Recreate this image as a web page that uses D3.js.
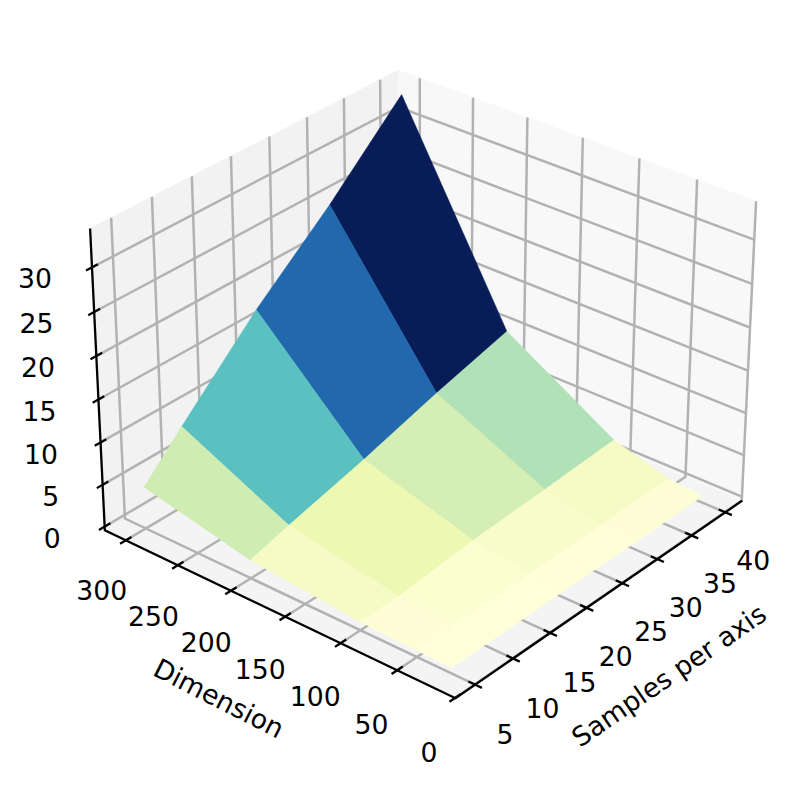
<!DOCTYPE html>
<html><head><meta charset="utf-8">
<script src="https://cdn.jsdelivr.net/npm/d3@7"></script>
<style>html,body{margin:0;padding:0;background:#fff}svg{display:block}text{font-family:"DejaVu Sans";font-size:26.67px;fill:#000}</style>
</head><body><div id="chart"></div>
<script>
const samples = [5, 10, 20, 30, 40];
const dimensions = [300, 200, 100, 50, 20];
const timeRow300 = [4.5, 9, 17.65, 25.15, 33.5];
const timeRow200 = [1.7, 3, 5.35, 8, 10.35];
const timeRow100 = [0.55, 0.6, 1.5, 2, 2.6];
const timeRow50 = [0.3, 0.4, 0.5, 0.6, 0.7];
const timeRow20 = [0.2, 0.2, 0.25, 0.25, 0.3];
const values = [timeRow300, timeRow200, timeRow100, timeRow50, timeRow20];
const sampleTicks = [5, 10, 15, 20, 25, 30, 35, 40];
const dimensionTicks = [0, 50, 100, 150, 200, 250, 300];
const zTicks = [0, 5, 10, 15, 20, 25, 30];
const cmapColors = ["#ffffd9","#edf8b1","#c7e9b4","#7fcdbb","#41b6c4","#1d91c0","#225ea8","#253494","#081d58"];

const W = 794, H = 786;
const svg = d3.select("#chart").append("svg").attr("width", W).attr("height", H);

const sx = d3.scaleLinear().domain([2.45, 42.55]).range([0, 1]);
const sy = d3.scaleLinear().domain([-0.4, 320.4]).range([0, 1]);
const sz = d3.scaleLinear().domain([-0.45, 34.3]).range([0, 1]);

const elev = 30 * Math.PI / 180, azim = 220 * Math.PI / 180, dist = 10;
const bf = 1.8294640721620434 * 25 / 24 / Math.hypot(4, 4, 3);
const box = [4 * bf, 4 * bf, 3 * bf];
const wv = [Math.cos(elev) * Math.cos(azim), Math.cos(elev) * Math.sin(azim), Math.sin(elev)];
const un = Math.hypot(wv[0], wv[1]);
const uv = [-wv[1] / un, wv[0] / un, 0];
const vv = [wv[1]*uv[2]-wv[2]*uv[1], wv[2]*uv[0]-wv[0]*uv[2], wv[0]*uv[1]-wv[1]*uv[0]];
const dot = (a, b) => a[0]*b[0] + a[1]*b[1] + a[2]*b[2];
const px = d3.scaleLinear().domain([-0.1, 0.1]).range([425.5 - 388.5, 425.5 + 388.5]);
const py = d3.scaleLinear().domain([-0.1, 0.1]).range([368.5 + 388.5, 368.5 - 388.5]);
function projFrac(fx, fy, fz) {
  const p = [(fx - .5) * box[0], (fy - .5) * box[1], (fz - .5) * box[2]];
  const d = dist - dot(wv, p);
  return [px(dot(uv, p) / d), py(dot(vv, p) / d)];
}
const proj = (x, y, z) => projFrac(sx(x), sy(y), sz(z));
const line = d3.line();
const closed = pts => line(pts) + "Z";

const panes = [
  {c:[[0,0,0],[1,0,0],[1,1,0],[0,1,0]], fill:"#f4f4f4"},
  {c:[[0,1,0],[1,1,0],[1,1,1],[0,1,1]], fill:"#f2f2f2"},
  {c:[[1,0,0],[1,1,0],[1,1,1],[1,0,1]], fill:"#f8f8f8"}
];
svg.append("g").selectAll("path").data(panes).join("path")
  .attr("d", d => closed(d.c.map(c => projFrac(...c))))
  .attr("fill", d => d.fill).attr("stroke", d => d.fill).attr("stroke-width", 1);

const gridColor = "#b2b2b2";
const grid = svg.append("g").attr("fill", "none").attr("stroke", gridColor).attr("stroke-width", 2.5);
sampleTicks.forEach(v => grid.append("path").attr("d", line([
  projFrac(sx(v), 0, 0), projFrac(sx(v), 1, 0), projFrac(sx(v), 1, 1)])));
dimensionTicks.forEach(v => grid.append("path").attr("d", line([
  projFrac(0, sy(v), 0), projFrac(1, sy(v), 0), projFrac(1, sy(v), 1)])));
zTicks.forEach(v => grid.append("path").attr("d", line([
  projFrac(0, 1, sz(v)), projFrac(1, 1, sz(v)), projFrac(1, 0, sz(v))])));

const ax = svg.append("g").attr("fill", "none").attr("stroke", "#000").attr("stroke-width", 2.3);
ax.append("path").attr("d", line([projFrac(0,1,1), projFrac(0,1,0), projFrac(0,0,0), projFrac(1,0,0)]));
const tk = .018;
sampleTicks.forEach(v => ax.append("path").attr("d", line([projFrac(sx(v), -tk, 0), projFrac(sx(v), tk, 0)])));
dimensionTicks.forEach(v => ax.append("path").attr("d", line([projFrac(-tk, sy(v), 0), projFrac(tk, sy(v), 0)])));
zTicks.forEach(v => ax.append("path").attr("d", line([projFrac(-tk, 1, sz(v)), projFrac(tk, 1, sz(v))])));

const faces = [];
for (let r = 0; r < dimensions.length - 1; r++) {
  for (let c = 0; c < samples.length - 1; c++) {
    const corners = [[r,c],[r,c+1],[r+1,c+1],[r+1,c]];
    const pts3 = corners.map(([i,j]) => [samples[j], dimensions[i], values[i][j]]);
    faces.push({pts: pts3.map(p => proj(...p)), avg: d3.mean(pts3, p => p[2]),
      depth: d3.mean(pts3, p => sx(p[0]) + sy(p[1]))});
  }
}
const norm = d3.scaleLinear().domain(d3.extent(faces, f => f.avg)).range([0, 1]);
const cmap = d3.scaleLinear().domain(cmapColors.map((_, i) => i / (cmapColors.length - 1))).range(cmapColors).interpolate(d3.interpolateRgb);
faces.sort((a, b) => b.depth - a.depth);
svg.append("g").selectAll("path").data(faces).join("path")
  .attr("d", f => closed(f.pts))
  .attr("fill", f => cmap(norm(f.avg)))
  .attr("stroke", f => cmap(norm(f.avg))).attr("stroke-width", .5);

const lab = svg.append("g");
sampleTicks.forEach(v => { const p = projFrac(sx(v), 0, 0);
  lab.append("text").attr("x", p[0] + 30 - v / 20).attr("y", p[1] + 52 - v / 20).attr("text-anchor", "middle").attr("dominant-baseline", "middle").text(v); });
dimensionTicks.forEach(v => { const p = projFrac(0, sy(v), 0);
  lab.append("text").attr("x", p[0] - 26 + v / 150).attr("y", p[1] + 57 - v / 60).attr("text-anchor", "middle").attr("dominant-baseline", "middle").text(v); });
zTicks.forEach(v => { const p = projFrac(0, 1, sz(v));
  lab.append("text").attr("x", p[0] - 44 + v * 4 / 30).attr("y", p[1] + 14 - v / 30).attr("text-anchor", "end").attr("dominant-baseline", "middle").text(v); });

lab.append("text").attr("transform", "translate(218,700) rotate(27)").attr("text-anchor", "middle").attr("dominant-baseline", "middle").text("Dimension");
lab.append("text").attr("transform", "translate(670,677) rotate(-34.5)").attr("text-anchor", "middle").attr("dominant-baseline", "middle").text("Samples per axis");
</script></body></html>
